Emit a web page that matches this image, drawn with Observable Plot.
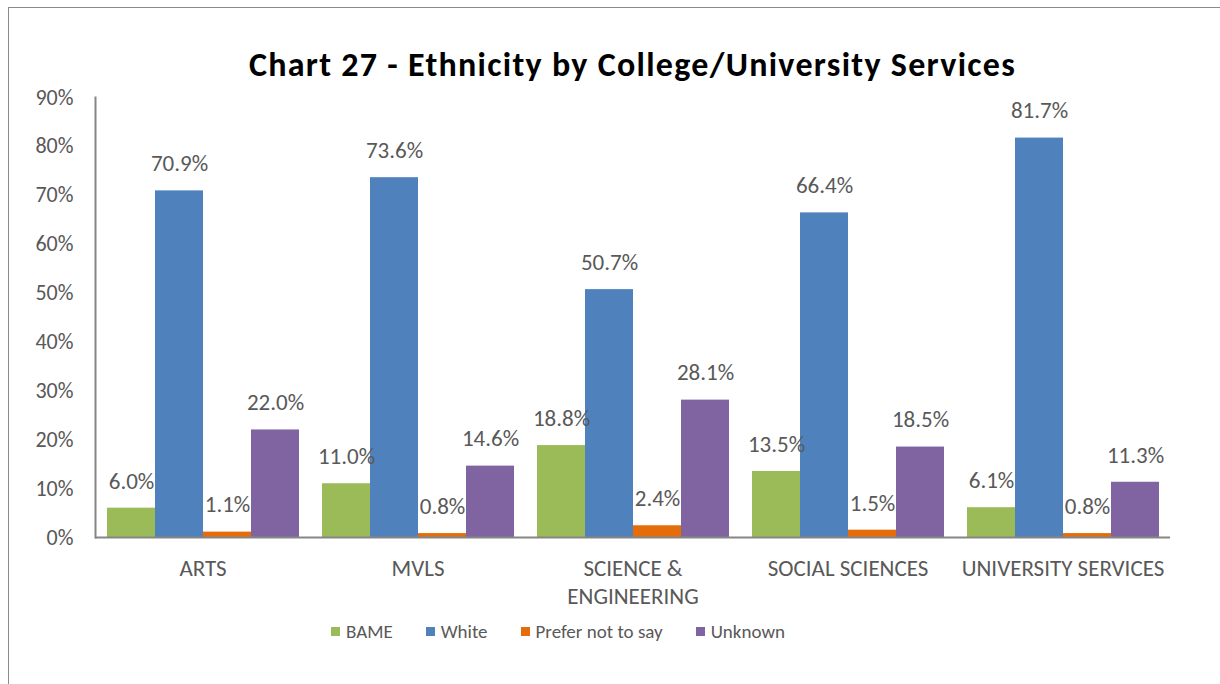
<!DOCTYPE html>
<html>
<head>
<meta charset="utf-8">
<script src="https://cdn.jsdelivr.net/npm/d3@7"></script>
<script src="https://cdn.jsdelivr.net/npm/@observablehq/plot@0.6"></script>
<style>
  body { margin: 0; background: #fff; }
  #wrap { position: relative; width: 1220px; height: 684px; overflow: hidden; font-family: Carlito, Lato, "Open Sans", sans-serif; }
  #border { position: absolute; left: 8px; top: 7px; right: -10px; bottom: -10px; border-left: 1.5px solid #8a8a8a; border-top: 1.5px solid #8a8a8a; }
  #title { position: relative; height: 40px; padding-top: 45px; line-height: 40px; text-align: center; font-size: 34px; font-weight: bold; letter-spacing: 1.3px; color: #000; padding-left: 45px; }
  #chart { position: relative; height: 525px; }
  #legend { position: relative; display: flex; align-items: center; height: 42px; padding-left: 331px; gap: 33px; font-size: 19px; color: #595959; }
  .item { display: flex; align-items: center; gap: 6px; }
  .sw { width: 9px; height: 9px; display: inline-block; }
</style>
</head>
<body>
<div id="wrap">
  <div id="border"></div>
  <div id="title">Chart 27 - Ethnicity by College/University Services</div>
  <div id="chart"></div>
  <div id="legend"></div>
</div>
<script>
const categories = ["ARTS", "MVLS", "SCIENCE & ENGINEERING", "SOCIAL SCIENCES", "UNIVERSITY SERVICES"];
const tickLabels = ["ARTS", "MVLS", "SCIENCE &\nENGINEERING", "SOCIAL SCIENCES", "UNIVERSITY SERVICES"];
const series = ["BAME", "White", "Prefer not to say", "Unknown"];
const colors = ["#9BBB59", "#4F81BD", "#E46C0A", "#8064A2"];
const bame = [6.0, 11.0, 18.8, 13.5, 6.1];
const white = [70.9, 73.6, 50.7, 66.4, 81.7];
const prefer = [1.1, 0.8, 2.4, 1.5, 0.8];
const unknown = [22.0, 14.6, 28.1, 18.5, 11.3];
const yTicks = [0, 10, 20, 30, 40, 50, 60, 70, 80, 90];

const seriesValues = [bame, white, prefer, unknown];
const data = [];
categories.forEach((c, i) => {
  series.forEach((s, j) => {
    data.push({category: c, series: s, value: seriesValues[j][i]});
  });
});

const labelOf = new Map(categories.map((c, i) => [c, tickLabels[i]]));
const txt = "#595959";
const axisColor = "#868686";

const chart = Plot.plot({
  width: 1220,
  height: 525,
  marginTop: 12,
  marginBottom: 73,
  marginLeft: 95,
  marginRight: 50,
  style: {fontFamily: "Carlito, Lato, 'Open Sans', sans-serif", background: "transparent"},
  fx: {domain: categories, padding: 0, label: null},
  x: {domain: series, paddingInner: 0, paddingOuter: 0.194, axis: null},
  y: {domain: [0, 90], label: null},
  color: {domain: series, range: colors},
  marks: [
    Plot.barY(data, {fx: "category", x: "series", y: "value", fill: "series"}),
    Plot.ruleY([0], {stroke: axisColor, strokeWidth: 2}),
    Plot.frame({anchor: "left", facetAnchor: "left", stroke: axisColor, strokeWidth: 2}),
    Plot.text(data, {fx: "category", x: "series", y: "value", text: d => d.value.toFixed(1) + "%", dy: -27, fill: txt, fontSize: 23}),
    Plot.axisY({ticks: yTicks, tickFormat: d => d + "%", tickSize: 0, tickPadding: 22, fontSize: 22, color: txt, label: null}),
    Plot.axisFx({anchor: "bottom", tickSize: 0, tickPadding: 19, fontSize: 23, lineHeight: 1.22, color: txt, label: null, tickFormat: d => labelOf.get(d)})
  ]
});
document.getElementById("chart").appendChild(chart);

const legend = document.getElementById("legend");
series.forEach((s, j) => {
  const it = document.createElement("div");
  it.className = "item";
  const sw = document.createElement("span");
  sw.className = "sw";
  sw.style.background = colors[j];
  const t = document.createElement("span");
  t.textContent = s;
  it.appendChild(sw);
  it.appendChild(t);
  legend.appendChild(it);
});
</script>
</body>
</html>
